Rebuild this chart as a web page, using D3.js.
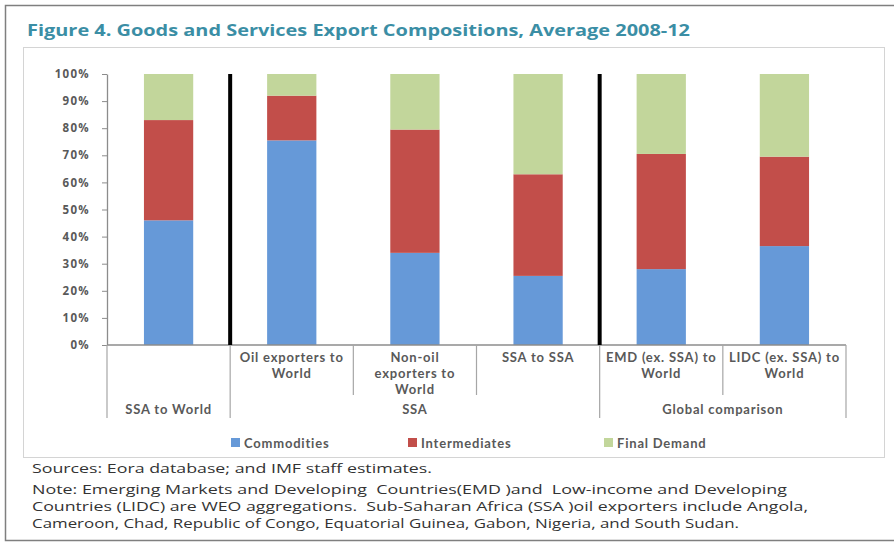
<!DOCTYPE html>
<html>
<head>
<meta charset="utf-8">
<script src="https://cdn.jsdelivr.net/npm/d3@7"></script>
<style>
  html, body { margin: 0; padding: 0; background: #fff; }
  svg { display: block; }
</style>
</head>
<body>
<svg id="chart" width="894" height="545"></svg>
<script>
// Export composition shares (%), averages for 2008-12
const categories = ["SSA to World", "Oil exporters to World", "Non-oil exporters to World", "SSA to SSA", "EMD (ex. SSA) to World", "LIDC (ex. SSA) to World"];
const categoryLabels = [[], ["Oil exporters to", "World"], ["Non-oil", "exporters to", "World"], ["SSA to SSA"], ["EMD (ex. SSA) to", "World"], ["LIDC (ex. SSA) to", "World"]];
const groupNames = ["SSA to World", "SSA", "Global comparison"];
const groupSpans = [[0, 1], [1, 4], [4, 6]];
const seriesNames = ["Commodities", "Intermediates", "Final Demand"];
const commodities = [46, 75.5, 34, 25.5, 28, 36.5];
const intermediates = [37, 16.5, 45.5, 37.5, 42.5, 33];
const finalDemand = [17, 8, 20.5, 37, 29.5, 30.5];
const yTicks = [0, 10, 20, 30, 40, 50, 60, 70, 80, 90, 100];

const colors = ["#6699d8", "#c24e4a", "#c2d69b"];
const font = "'Open Sans', sans-serif";
const compactFont = "Lato, 'Open Sans', sans-serif";
const labelColor = "#595959";

const svg = d3.select("#chart");

// outer frame and inner chart box
svg.append("rect").attr("x", 5.5).attr("y", 5.5).attr("width", 900).attr("height", 535)
  .attr("fill", "none").attr("stroke", "#7f7f7f").attr("stroke-width", 1.5);
svg.append("rect").attr("x", 23.5).attr("y", 47.5).attr("width", 861).attr("height", 410)
  .attr("fill", "none").attr("stroke", "#d4d4d4").attr("stroke-width", 1);

svg.append("text").attr("x", 27).attr("y", 36)
  .attr("font-family", font).attr("font-weight", 700).attr("font-size", 16)
  .attr("fill", "#3b8ea5")
  .attr("textLength", 663).attr("lengthAdjust", "spacingAndGlyphs")
  .text("Figure 4. Goods and Services Export Compositions, Average 2008-12");

const plot = { left: 107, right: 846, top: 74, bottom: 345 };

const x = d3.scaleBand().domain(categories).range([plot.left, plot.right])
  .paddingInner(0.6).paddingOuter(0.3);
const y = d3.scaleLinear().domain([0, 100]).range([plot.bottom, plot.top]);
const step = x.step();
const boundary = i => plot.left + step * i;

// stacked data
const rows = categories.map((c, i) => ({ cat: c, Commodities: commodities[i], Intermediates: intermediates[i], "Final Demand": finalDemand[i] }));
const stack = d3.stack().keys(seriesNames)(rows);

svg.append("g").selectAll("g").data(stack).join("g")
  .attr("fill", (d, i) => colors[i])
  .selectAll("rect").data(d => d).join("rect")
  .attr("x", d => x(d.data.cat))
  .attr("width", x.bandwidth())
  .attr("y", d => y(d[1]))
  .attr("height", d => y(d[0]) - y(d[1]));

// y axis
const yAxis = d3.axisLeft(y).tickValues(yTicks).tickFormat(d => d + "%").tickSize(5).tickSizeOuter(0);
const ya = svg.append("g").attr("transform", `translate(${plot.left},0)`).call(yAxis);
ya.select(".domain").attr("stroke", "#8c8c8c").attr("stroke-width", 1.3);
ya.selectAll(".tick line").attr("stroke", "#8c8c8c");
ya.selectAll(".tick text").attr("x", -17).attr("font-family", font).attr("font-weight", 700)
  .attr("font-size", 11.5).attr("letter-spacing", 1.3).attr("fill", labelColor);

// x axis baseline
svg.append("line").attr("x1", plot.left).attr("x2", plot.right).attr("y1", plot.bottom).attr("y2", plot.bottom)
  .attr("stroke", "#8c8c8c").attr("stroke-width", 1.3);

// category divider ticks (short) and group divider ticks (long)
const groupEdges = new Set([0].concat(groupSpans.map(s => s[1])));
d3.range(categories.length + 1).forEach(i => {
  const isGroup = groupEdges.has(i);
  svg.append("line").attr("x1", boundary(i)).attr("x2", boundary(i))
    .attr("y1", plot.bottom).attr("y2", isGroup ? 418 : 395)
    .attr("stroke", "#a6a6a6").attr("stroke-width", 1.2);
});

// heavy black separators between groups
groupSpans.slice(0, -1).forEach(s => {
  svg.append("line").attr("x1", boundary(s[1])).attr("x2", boundary(s[1]))
    .attr("y1", plot.top).attr("y2", plot.bottom)
    .attr("stroke", "#000").attr("stroke-width", 4);
});

// category labels, one text element per category with a tspan per line
categoryLabels.forEach((lines, i) => {
  if (!lines.length) return;
  const cx = x(categories[i]) + x.bandwidth() / 2;
  const t = svg.append("text").attr("y", 362)
    .attr("text-anchor", "middle").attr("font-family", compactFont).attr("font-weight", 700)
    .attr("font-size", 13).attr("letter-spacing", 0.8).attr("fill", labelColor);
  lines.forEach((ln, j) => {
    t.append("tspan").attr("x", cx).attr("dy", j === 0 ? 0 : 16).text(ln);
  });
});

// group labels
groupNames.forEach((g, i) => {
  const cx = (boundary(groupSpans[i][0]) + boundary(groupSpans[i][1])) / 2;
  svg.append("text").attr("x", cx).attr("y", 414)
    .attr("text-anchor", "middle").attr("font-family", compactFont).attr("font-weight", 700)
    .attr("font-size", 13).attr("letter-spacing", 0.8).attr("fill", labelColor).text(g);
});

// legend
const legendX = [231, 408, 604];
seriesNames.forEach((s, i) => {
  const g = svg.append("g").attr("transform", `translate(${legendX[i]},438)`);
  g.append("rect").attr("width", 9).attr("height", 9).attr("fill", colors[i]);
  g.append("text").attr("x", 13).attr("y", 9.5).attr("font-family", compactFont).attr("font-weight", 700)
    .attr("font-size", 13).attr("letter-spacing", 0.8).attr("fill", labelColor).text(s);
});

// footnotes
const notes = [
  "Sources: Eora database; and IMF staff estimates.",
  "Note: Emerging Markets and Developing  Countries(EMD )and  Low-income and Developing",
  "Countries (LIDC) are WEO aggregations.  Sub-Saharan Africa (SSA )oil exporters include Angola,",
  "Cameroon, Chad, Republic of Congo, Equatorial Guinea, Gabon, Nigeria, and South Sudan."
];
const noteY = [473, 494, 511, 528];
const noteW = [400, 755, 776, 707];
notes.forEach((t, i) => {
  svg.append("text").attr("x", 32).attr("y", noteY[i]).attr("font-family", font)
    .attr("font-size", 13.5).attr("fill", "#333")
    .attr("textLength", noteW[i]).attr("lengthAdjust", "spacingAndGlyphs")
    .style("white-space", "pre").text(t);
});
</script>
</body>
</html>
